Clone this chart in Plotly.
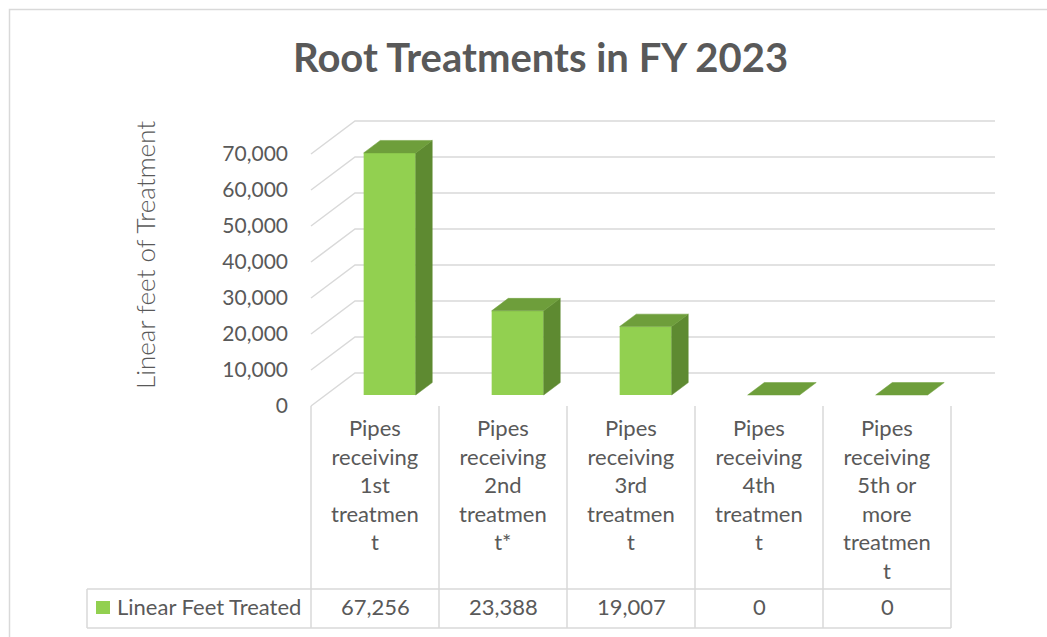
import plotly.graph_objects as go

# ---------------- data ----------------
categories = [
    "Pipes<br>receiving<br>1st<br>treatmen<br>t",
    "Pipes<br>receiving<br>2nd<br>treatmen<br>t*",
    "Pipes<br>receiving<br>3rd<br>treatmen<br>t",
    "Pipes<br>receiving<br>4th<br>treatmen<br>t",
    "Pipes<br>receiving<br>5th or<br>more<br>treatmen<br>t",
]
values = [67256, 23388, 19007, 0, 0]
series_name = "Linear Feet Treated"
tick_values = [0, 10000, 20000, 30000, 40000, 50000, 60000, 70000]
title_text = "Root Treatments in FY 2023"
y_title = "Linear feet of Treatment"

# ---------------- geometry (pixel layout -> data units) ----------------
W, H = 1047, 637
X0PX, CATPX = 311, 128        # pixel of front-left floor corner, pixels per category
Y0PX, VPX = 406, 0.0036       # pixel of value 0 on front edge, pixels per value unit


def xd(px):
    return -0.5 + (px - X0PX) / CATPX


def yd(py):
    return (Y0PX - py) / VPX


DX = 44 / CATPX               # full depth shift in x units
DY = 33 / VPX                 # full depth shift in y units
F0, F1 = 1 / 3, 0.71          # bar front/back depth fractions
BW = 52 / CATPX               # bar width

FONT = "Lato"
TXT = "#595959"
GRID = "#D9D9D9"
FRONT, SIDE, TOP = "#92D050", "#5E8A31", "#6E9E3B"

fig = go.Figure()

# front faces of bars
fig.add_trace(go.Bar(
    x=[i + F0 * DX for i in range(len(values))],
    y=values,
    base=F0 * DY,
    width=BW,
    marker=dict(color=FRONT, line=dict(width=0)),
    hoverinfo="skip",
    showlegend=False,
))

# side and top faces
ddx, ddy = (F1 - F0) * DX, (F1 - F0) * DY
b0 = F0 * DY
for i, v in enumerate(values):
    xl = i + F0 * DX - BW / 2
    xr = i + F0 * DX + BW / 2
    if v > 0:
        fig.add_trace(go.Scatter(
            x=[xr, xr, xr + ddx, xr + ddx, xr],
            y=[b0, b0 + v, b0 + v + ddy, b0 + ddy, b0],
            mode="lines", fill="toself", fillcolor=SIDE,
            line=dict(width=0.5, color=SIDE), hoverinfo="skip", showlegend=False,
        ))
    fig.add_trace(go.Scatter(
        x=[xl, xr, xr + ddx, xl + ddx, xl],
        y=[b0 + v, b0 + v, b0 + v + ddy, b0 + v + ddy, b0 + v],
        mode="lines", fill="toself", fillcolor=TOP,
        line=dict(width=0.5, color=TOP), hoverinfo="skip", showlegend=False,
    ))

shapes = []
# perspective gridlines (behind bars)
n = len(values)
for t in tick_values:
    path = (f"M {-0.5},{t} L {-0.5 + DX},{t + DY} L {n - 0.5 + DX},{t + DY}")
    shapes.append(dict(type="path", xref="x", yref="y", path=path,
                       line=dict(color=GRID, width=1.5), layer="below"))

# data table lines
t_top, t_mid, t_bot = yd(406), yd(589), yd(628)
for k in range(n + 1):
    shapes.append(dict(type="line", xref="x", yref="y",
                       x0=k - 0.5, x1=k - 0.5, y0=t_top, y1=t_bot,
                       line=dict(color=GRID, width=1.5)))
for yy in (t_mid, t_bot):
    shapes.append(dict(type="line", xref="x", yref="y",
                       x0=xd(87), x1=n - 0.5, y0=yy, y1=yy,
                       line=dict(color=GRID, width=1.5)))
shapes.append(dict(type="line", xref="x", yref="y",
                   x0=xd(87), x1=xd(87), y0=t_mid, y1=t_bot,
                   line=dict(color=GRID, width=1.5)))
# legend key
shapes.append(dict(type="rect", xref="x", yref="y",
                   x0=xd(96), x1=xd(110), y0=yd(614), y1=yd(601),
                   fillcolor=FRONT, line=dict(width=0)))
# outer chart border
shapes.append(dict(type="rect", xref="paper", yref="paper",
                   x0=9.5 / W, x1=1.02, y0=-0.02, y1=1 - 9.5 / H,
                   line=dict(color=GRID, width=1.5), fillcolor="rgba(0,0,0,0)",
                   layer="below"))

annotations = []
for i, c in enumerate(categories):
    annotations.append(dict(x=i, y=yd(412), xref="x", yref="y", text=c,
                            showarrow=False, xanchor="center", yanchor="top",
                            align="center", font=dict(family=FONT, size=22, color=TXT)))
    annotations.append(dict(x=i, y=yd(606.5), xref="x", yref="y", text=f"{values[i]:,}",
                            showarrow=False, xanchor="center", yanchor="middle",
                            font=dict(family=FONT, size=22, color=TXT)))
annotations.append(dict(x=xd(115), y=yd(606.5), xref="x", yref="y", text=series_name,
                        showarrow=False, xanchor="left", yanchor="middle",
                        font=dict(family=FONT, size=22, color=TXT)))
annotations.append(dict(x=540 / W, y=1 - 57 / H, xref="paper", yref="paper",
                        text=f"<b>{title_text}</b>", showarrow=False,
                        xanchor="center", yanchor="middle",
                        font=dict(family=FONT, size=40, color=TXT)))
annotations.append(dict(x=145 / W, y=1 - 255 / H, xref="paper", yref="paper",
                        text=y_title, textangle=-90, showarrow=False,
                        xanchor="center", yanchor="middle",
                        font=dict(family=FONT, size=26, color=TXT, weight=300)))

fig.update_layout(
    width=W, height=H, autosize=False,
    margin=dict(l=0, r=0, t=0, b=0, pad=0),
    paper_bgcolor="white", plot_bgcolor="rgba(0,0,0,0)",
    showlegend=False, hovermode=False,
    shapes=shapes, annotations=annotations,
    xaxis=dict(range=[xd(0), xd(W)], visible=False, fixedrange=True),
    yaxis=dict(range=[yd(H), yd(0)], anchor="free", position=X0PX / W,
               tickvals=tick_values, tickformat=",d",
               showgrid=False, zeroline=False, showline=False, ticks="",
               ticklabelstandoff=23,
               tickfont=dict(family=FONT, size=21, color=TXT), fixedrange=True),
)

fig.write_html("out.html", config={"displayModeBar": False},
               post_script="document.body.style.margin='0';")
